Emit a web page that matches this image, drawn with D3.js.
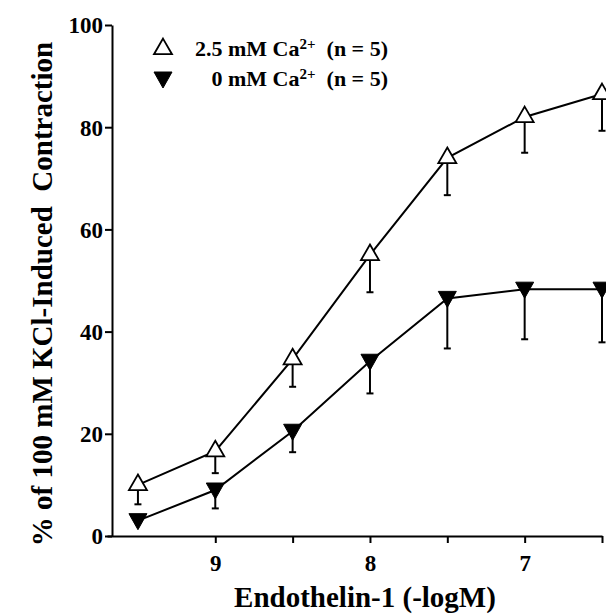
<!DOCTYPE html>
<html>
<head>
<meta charset="utf-8">
<script src="https://cdn.jsdelivr.net/npm/d3@7"></script>
<style>
  body { margin: 0; background: #fff; }
  text { font-family: "Liberation Serif", "Times New Roman", serif; font-weight: bold; fill: #000; }
</style>
</head>
<body>
<svg id="chart" width="606" height="614"></svg>
<script>
// endothelin-1 concentration, -log M
const doses = [9.5, 9, 8.5, 8, 7.5, 7, 6.5];

// % of 100 mM KCl contraction, mean and lower error (SEM)
const ca25Mean = [10, 16.6, 34.6, 55, 74, 82, 86.5];
const ca25Err = [3.8, 4.3, 5.4, 7.3, 7.3, 7, 7.2];
const ca0Mean = [3, 9, 20.5, 34.2, 46.5, 48.3, 48.3];
const ca0Err = [0, 3.6, 4.1, 6.3, 9.8, 9.8, 10.4];

const xTicks = [9, 8.5, 8, 7.5, 7, 6.5];
const yTicks = [0, 20, 40, 60, 80, 100];

const series = [
    { name: "2.5", mean: ca25Mean, err: ca25Err, filled: false },
    { name: "0", mean: ca0Mean, err: ca0Err, filled: true }
];

let svg = d3.select("#chart");

let x = d3.scaleLinear().domain([9.7, 6.5]).range([107, 602]);
let y = d3.scaleLinear().domain([0, 100]).range([536, 25]);

// axes
let yAxis = svg.append('g')
    .attr('transform', 'translate(112,0)')
    .call(d3.axisLeft(y).tickValues(yTicks).tickSize(7).tickSizeOuter(0).tickPadding(2));
yAxis.selectAll('text').style('font-size', '23px').attr('dy', '0.34em');

let xAxis = svg.append('g')
    .attr('transform', 'translate(0,536)')
    .call(d3.axisBottom(x).tickValues(xTicks).tickSize(7).tickSizeOuter(0).tickPadding(12)
        .tickFormat(d => Number.isInteger(d) ? d : ""));
xAxis.selectAll('text').style('font-size', '23px');

svg.selectAll('.domain, .tick line')
    .attr('stroke', '#000')
    .attr('stroke-width', 2);

// axis titles
svg.append('text')
    .attr('x', 365)
    .attr('y', 607)
    .attr('text-anchor', 'middle')
    .style('font-size', '29px')
    .text('Endothelin-1 (-logM)');

svg.append('text')
    .attr('transform', 'translate(52,294) rotate(-90)')
    .attr('text-anchor', 'middle')
    .style('font-size', '29px')
    .style('white-space', 'pre')
    .text('% of 100 mM KCl-Induced  Contraction');

let upTri = d3.symbol().type(d3.symbolTriangle).size(140);
let downTri = 'M-9,-7L9,-7L0,9Z';

let line = d3.line()
    .x((d, i) => x(doses[i]))
    .y(d => y(d));

series.forEach(s => {
    let g = svg.append('g');

    // one-sided error bars
    s.mean.forEach((m, i) => {
        if (s.err[i] <= 0) return;
        let cx = x(doses[i]);
        g.append('line')
            .attr('x1', cx).attr('x2', cx)
            .attr('y1', y(m)).attr('y2', y(m - s.err[i]))
            .attr('stroke', '#000').attr('stroke-width', 2);
        g.append('line')
            .attr('x1', cx - 3.5).attr('x2', cx + 3.5)
            .attr('y1', y(m - s.err[i])).attr('y2', y(m - s.err[i]))
            .attr('stroke', '#000').attr('stroke-width', 2);
    });

    g.append('path')
        .attr('d', line(s.mean))
        .attr('fill', 'none')
        .attr('stroke', '#000')
        .attr('stroke-width', 2);

    g.selectAll('path.mark')
        .data(s.mean)
        .join('path')
        .attr('class', 'mark')
        .attr('transform', (d, i) => `translate(${x(doses[i])},${y(d)})`)
        .attr('d', s.filled ? downTri : upTri)
        .attr('fill', s.filled ? '#000' : '#fff')
        .attr('stroke', '#000')
        .attr('stroke-width', s.filled ? 1 : 1.8);
});

// legend
let legend = svg.append('g');
legend.append('path')
    .attr('transform', 'translate(163,49)')
    .attr('d', upTri)
    .attr('fill', '#fff').attr('stroke', '#000').attr('stroke-width', 1.8);
legend.append('path')
    .attr('transform', 'translate(163,79)')
    .attr('d', downTri)
    .attr('fill', '#000').attr('stroke', '#000').attr('stroke-width', 1);

[['2.5 mM Ca', 56], ['0 mM Ca', 86]].forEach(([label, ty]) => {
    let t = legend.append('text')
        .attr('x', 388)
        .attr('y', ty)
        .attr('text-anchor', 'end')
        .style('font-size', '22px')
        .style('white-space', 'pre');
    t.append('tspan').text(label);
    t.append('tspan').attr('dy', -7).style('font-size', '15px').text('2+');
    t.append('tspan').attr('dy', 7).text('  (n = 5)');
});
</script>
</body>
</html>
